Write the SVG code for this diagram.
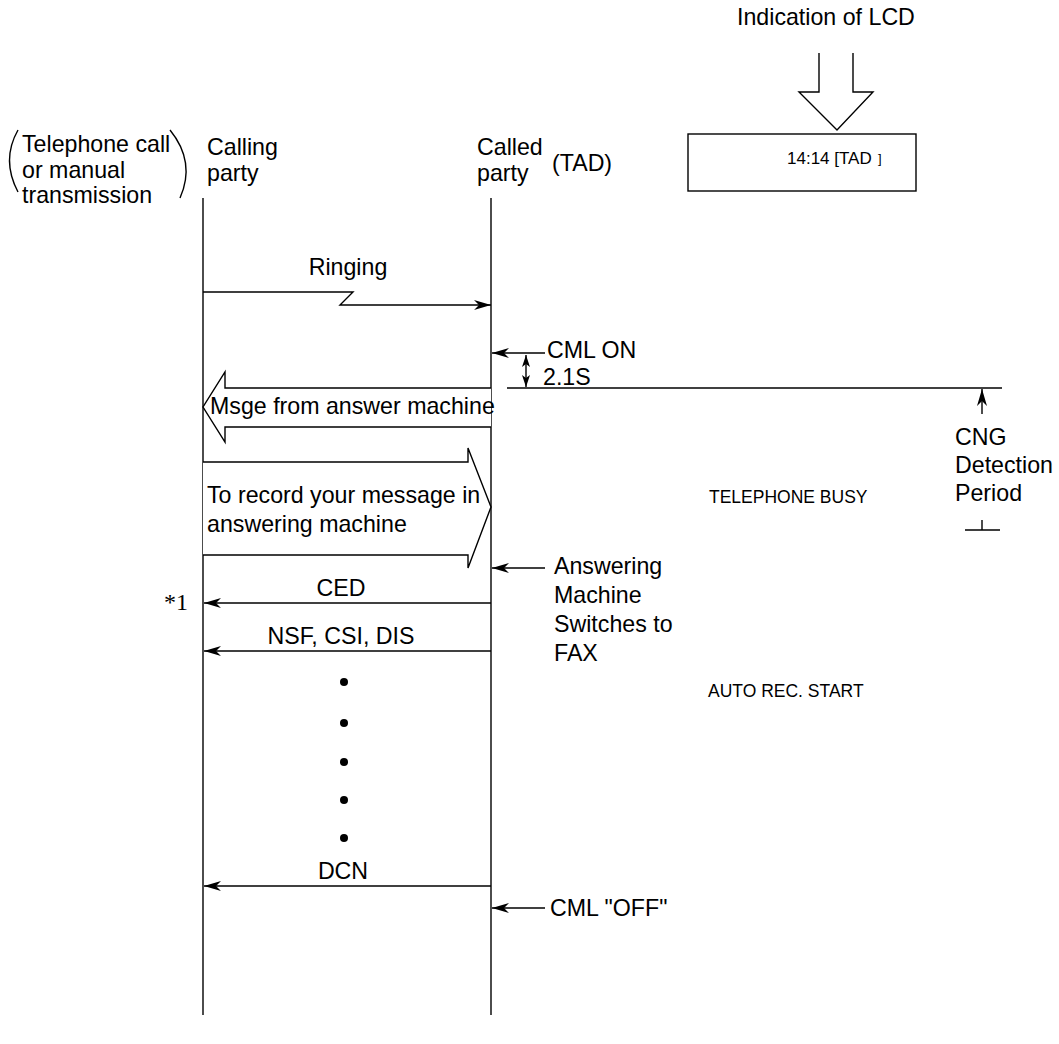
<svg xmlns="http://www.w3.org/2000/svg" width="1059" height="1044" viewBox="0 0 1059 1044">
<style>
text{font-family:"Liberation Sans",Arial,sans-serif;fill:#000}
.t{font-size:23.2px}
.s{font-size:17.5px}
.ln{stroke:#000;stroke-width:1.4;fill:none}
.ol{stroke:#000;stroke-width:1.4;fill:#fff}
</style>
<defs>
<marker id="ah" viewBox="0 0 17 10" markerWidth="17" markerHeight="10" refX="17" refY="5" orient="auto" markerUnits="userSpaceOnUse">
<path d="M0,0 L17,5 L0,10 L5,5 z" fill="#000"/>
</marker>
<marker id="ahs" viewBox="0 0 12 8" markerWidth="12" markerHeight="8" refX="12" refY="4" orient="auto-start-reverse" markerUnits="userSpaceOnUse">
<path d="M0,0 L12,4 L0,8 L3,4 z" fill="#000"/>
</marker>
</defs>

<g id="header-left">
<path class="ln" d="M18 130 Q1 160 18 192"/>
<text class="t" x="22" y="152">Telephone call</text>
<text class="t" x="22" y="178">or manual</text>
<text class="t" x="22" y="203">transmission</text>
<path class="ln" d="M170 130 Q196 162 180 198"/>
</g>

<g id="calling-party">
<text class="t" x="207" y="155">Calling</text>
<text class="t" x="207" y="181">party</text>
<line class="ln" x1="203" y1="198" x2="203" y2="1015"/>
</g>

<g id="called-party">
<text class="t" x="477" y="155">Called</text>
<text class="t" x="477" y="181">party</text>
<text class="t" x="552" y="171">(TAD)</text>
<line class="ln" x1="491" y1="198" x2="491" y2="1015"/>
</g>

<g id="lcd">
<text class="t" x="737" y="25">Indication of LCD</text>
<path class="ol" d="M819 53 L819 92 L799 92 L837 130 L873 92 L853 92 L853 53"/>
<rect class="ol" x="688" y="134" width="228" height="57"/>
<text style="font-size:17px" x="787" y="164">14:14 [TAD</text>
<text style="font-size:13px" x="878" y="163">]</text>
</g>

<g id="connectors">
<polyline class="ln" points="203,292 353,292 340,305 491,305" marker-end="url(#ah)"/>
<text class="t" x="348" y="275" text-anchor="middle">Ringing</text>

<line class="ln" x1="545" y1="353" x2="492" y2="353" marker-end="url(#ah)"/>
<text class="t" x="547" y="358">CML ON</text>
<line class="ln" x1="526" y1="355" x2="526" y2="387" marker-start="url(#ahs)" marker-end="url(#ahs)"/>
<text class="t" x="543" y="385">2.1S</text>
<line class="ln" x1="507" y1="388" x2="1002" y2="388"/>
<line class="ln" x1="982" y1="414" x2="982" y2="389" marker-end="url(#ah)"/>

<path class="ol" d="M491 388 L225 388 L225 372 L203 407 L225 442 L225 427 L491 427"/>
<text class="t" x="210" y="414">Msge from answer machine</text>

<path class="ol" d="M203 462 L468 462 L468 448 L491 507 L468 568 L468 555 L203 555"/>
<text class="t" x="207" y="503">To record your message in</text>
<text class="t" x="207" y="532">answering machine</text>

<line class="ln" x1="545" y1="568" x2="492" y2="568" marker-end="url(#ah)"/>

<line class="ln" x1="491" y1="603" x2="204" y2="603" marker-end="url(#ah)"/>
<text class="t" x="341" y="596" text-anchor="middle">CED</text>
<line class="ln" x1="491" y1="651" x2="204" y2="651" marker-end="url(#ah)"/>
<text class="t" x="341" y="644" text-anchor="middle">NSF, CSI, DIS</text>

<line class="ln" x1="491" y1="886" x2="204" y2="886" marker-end="url(#ah)"/>
<text class="t" x="343" y="879" text-anchor="middle">DCN</text>

<line class="ln" x1="545" y1="908" x2="492" y2="908" marker-end="url(#ah)"/>
</g>

<g id="dots">
<circle cx="344" cy="682" r="4"/>
<circle cx="344" cy="723" r="4"/>
<circle cx="344" cy="762" r="4"/>
<circle cx="344" cy="800" r="4"/>
<circle cx="344" cy="838" r="4"/>
</g>

<g id="labels">
<text class="t" x="955" y="445">CNG</text>
<text class="t" x="955" y="473">Detection</text>
<text class="t" x="955" y="501">Period</text>
<path class="ln" d="M965 530 L1000 530 M982 520 L982 530"/>
<text class="s" x="709" y="503">TELEPHONE BUSY</text>
<text class="t" x="554" y="574">Answering</text>
<text class="t" x="554" y="603">Machine</text>
<text class="t" x="554" y="632">Switches to</text>
<text class="t" x="554" y="661">FAX</text>
<text style="font-family:'Liberation Serif','Times New Roman',serif;font-size:24px" x="164" y="610">*1</text>
<text class="s" x="708" y="697">AUTO REC. START</text>
<text class="t" x="550" y="916">CML "OFF"</text>
</g>
</svg>
